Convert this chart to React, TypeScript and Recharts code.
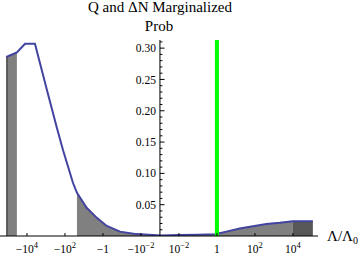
import { Area, ComposedChart, Line, ReferenceLine, XAxis, YAxis } from 'recharts';

// Λ/Λ0 sample positions and marginalized probability
const lambdaValues = [
  -1.26e5, -1.0e5, -3.4e4, -1.26e4, -3.8e3, -890, -263, -126, -38, -23.4, -7.2, -2.1, -0.63, -0.126, -0.017, -0.001,
  0.001, 0.01, 0.1, 0.8, 3.16, 15.8, 79, 400, 2000, 1e4, 1.12e5,
];
const probValues = [
  0.286, 0.287, 0.293, 0.307, 0.307, 0.233, 0.172, 0.137, 0.085, 0.069, 0.045, 0.029, 0.016, 0.007, 0.003, 0.001,
  0.0008, 0.0015, 0.002, 0.0027, 0.007, 0.012, 0.0155, 0.019, 0.021, 0.0235, 0.0235,
];

// shaded bands (Λ/Λ0 ranges)
const darkRanges: [number, number][] = [[-1.26e5, -1.0e5], [1e4, 1.12e5]];
const midRanges: [number, number][] = [[-1.0e5, -3.4e4], [-23.4, 1e4]];

const xTickValues = [-1e4, -1e2, -1, -1e-2, 1e-2, 1, 1e2, 1e4];
const xTickBases = ['−10', '−10', '−1', '−10', '10', '1', '10', '10'];
const xTickExps = ['4', '2', '', '−2', '−2', '', '2', '4'];

const yMajorTicks = [0.05, 0.1, 0.15, 0.2, 0.25, 0.3];
const yMajorLabels = ['0.05', '0.10', '0.15', '0.20', '0.25', '0.30'];
const yMinorTicks = [
  0.01, 0.02, 0.03, 0.04, 0.06, 0.07, 0.08, 0.09, 0.11, 0.12, 0.13, 0.14, 0.16, 0.17, 0.18, 0.19, 0.21, 0.22, 0.23,
  0.24, 0.26, 0.27, 0.28, 0.29, 0.31,
];

const lambdaRef = 1;

const FONT = '"Liberation Serif", "DejaVu Serif", serif';

// split log scale: ±1e-3 sits on the Prob axis, one unit per decade
const toT = (v: number) => Math.sign(v) * (Math.log10(Math.abs(v)) + 3);
const inRanges = (v: number, ranges: [number, number][]) => ranges.some(([a, b]) => v >= a && v <= b);

const data = lambdaValues.map((v, i) => ({
  t: toT(v),
  p: probValues[i],
  dark: inRanges(v, darkRanges) ? probValues[i] : null,
  mid: inRanges(v, midRanges) ? probValues[i] : null,
}));

function XTick(props: any) {
  const { x, y, index } = props;
  const exp = xTickExps[index];
  return (
    <g>
      <line x1={x} y1={y} x2={x} y2={y - 3} stroke="#000" />
      <text x={x} y={y + 17} textAnchor="middle" fontSize={11.5} fontFamily={FONT} fill="#000">
        {xTickBases[index]}
        {exp ? (
          <tspan dy={-5} fontSize={8.5}>
            {exp}
          </tspan>
        ) : null}
      </text>
    </g>
  );
}

export default function App() {
  return (
    <div style={{ position: 'absolute', left: 0, top: 0, width: 360, height: 256, background: '#fff' }}>
      <ComposedChart width={360} height={256} data={data} margin={{ top: 40, right: 42, bottom: 0, left: 0 }}>
        <XAxis
          dataKey="t"
          type="number"
          domain={[-8.42, 8.32]}
          ticks={xTickValues.map(toT)}
          interval={0}
          tick={<XTick />}
          tickLine={false}
          tickSize={0}
          tickMargin={0}
          height={20}
          axisLine={{ stroke: '#000' }}
          allowDataOverflow
        />
        <YAxis type="number" domain={[0, 0.313]} hide allowDataOverflow />
        <Area type="linear" dataKey="mid" stroke="none" fill="#808080" fillOpacity={1} isAnimationActive={false} dot={false} activeDot={false} />
        <Area type="linear" dataKey="dark" stroke="none" fill="#575757" fillOpacity={1} isAnimationActive={false} dot={false} activeDot={false} />
        <Line type="linear" dataKey="p" stroke="#4343a0" strokeWidth={2} dot={false} activeDot={false} isAnimationActive={false} />
        <ReferenceLine x={0} stroke="#000" strokeWidth={1} />
        {yMinorTicks.map((v) => (
          <ReferenceLine key={'m' + v} segment={[{ x: 0, y: v }, { x: 0.13, y: v }]} stroke="#000" strokeWidth={1} />
        ))}
        {yMajorTicks.map((v, i) => (
          <ReferenceLine
            key={'M' + v}
            segment={[{ x: 0, y: v }, { x: 0.24, y: v }]}
            stroke="#000"
            strokeWidth={1}
            label={{ value: yMajorLabels[i], position: 'left', offset: 4, fontSize: 11.5, fill: '#000', fontFamily: FONT }}
          />
        ))}
        <ReferenceLine x={toT(lambdaRef)} stroke="#00ff00" strokeWidth={4} />
      </ComposedChart>
      <svg width={360} height={256} style={{ position: 'absolute', left: 0, top: 0, pointerEvents: 'none' }}>
        <text x={160} y={12} textAnchor="middle" fontSize={15} fontFamily={FONT} fill="#000">
          Q and ΔN Marginalized
        </text>
        <text x={159} y={31} textAnchor="middle" fontSize={15} fontFamily={FONT} fill="#000">
          Prob
        </text>
        <text x={327} y={241} fontSize={15} fontFamily={FONT} fill="#000">
          Λ/Λ
          <tspan dy={3} fontSize={10}>
            0
          </tspan>
        </text>
      </svg>
    </div>
  );
}
